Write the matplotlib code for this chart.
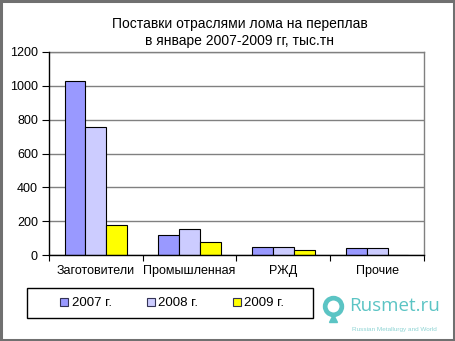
import numpy as np
import matplotlib
matplotlib.use('Agg')
from matplotlib import pyplot
from matplotlib.lines import Line2D
from matplotlib.patches import Rectangle

# Scrap deliveries by sector, January 2007-2009 (thousand tonnes)
categories = ['Заготовители', 'Промышленная', 'РЖД', 'Прочие']
years = ['2007 г.', '2008 г.', '2009 г.']
v2007 = [1030, 120, 45, 40]
v2008 = [755, 155, 50, 40]
v2009 = [175, 75, 28, 2]
yticks = [0, 200, 400, 600, 800, 1000, 1200]

colors = ['#9999FF', '#CCCCFF', '#FFFF00']

pyplot.rc('font', family=['Liberation Sans', 'DejaVu Sans'], size=9)
W, H = 456, 341
fig = pyplot.figure(figsize=(W / 100, H / 100), dpi=100)
ax = fig.add_axes([49 / W, 1 - 255 / H, (424 - 49) / W, (255 - 52) / H])

x = np.arange(len(categories))
width = 1 / 4.5
for i, (vals, c) in enumerate(zip([v2007, v2008, v2009], colors)):
    ax.bar(x + (i - 1) * width, vals, width, color=c, edgecolor='black',
           linewidth=0.8, zorder=3, label=years[i])

ax.set_xlim(-0.5, len(categories) - 0.5)
ax.set_ylim(0, 1200)
ax.set_yticks(yticks)
ax.set_xticks(x)
ax.set_xticklabels(categories)
ax.set_xticks(np.arange(len(categories) + 1) - 0.5, minor=True)
ax.tick_params(axis='x', which='major', length=0, pad=7)
ax.tick_params(axis='x', which='minor', length=4, width=0.8)
ax.tick_params(axis='y', length=5, width=0.8, pad=3)
ax.grid(axis='y', color='#808080', linewidth=1.0, zorder=0)
for side in ['left', 'bottom']:
    ax.spines[side].set_color('black')
    ax.spines[side].set_linewidth(1.0)
    ax.spines[side].set_zorder(4)
for side in ['top', 'right']:
    ax.spines[side].set_color('#808080')
    ax.spines[side].set_linewidth(1.0)

fig.text(240 / W, 1 - 24 / H, 'Поставки отраслями лома на переплав',
         ha='center', va='center', fontsize=10)
fig.text(240 / W, 1 - 41 / H, 'в январе 2007-2009 гг, тыс.тн',
         ha='center', va='center', fontsize=10)

# Legend box
fig.add_artist(Rectangle((27 / W, 1 - 318 / H), (313 - 27) / W, 30 / H,
                         transform=fig.transFigure, fill=False,
                         edgecolor='black', linewidth=1.0))
handles = [Line2D([], [], linestyle='none', marker='s', markersize=6,
                  markerfacecolor=c, markeredgecolor='#333355',
                  markeredgewidth=0.8) for c in colors]
fig.legend(handles, years, loc='center', ncol=3, frameon=False,
           bbox_to_anchor=(172 / W, 1 - 303 / H), handlelength=0.7,
           handletextpad=0.2, columnspacing=2.6, fontsize=9.5)

# Rusmet.ru logo
teal = '#5BC4C4'
fig.add_artist(Line2D([333 / W], [1 - 306 / H], marker='o', markersize=12,
                      markerfacecolor='white', markeredgecolor=teal,
                      markeredgewidth=3.4, transform=fig.transFigure))
fig.add_artist(Line2D([333 / W], [1 - 318 / H], marker='^', markersize=6,
                      markerfacecolor=teal, markeredgecolor=teal,
                      transform=fig.transFigure))
fig.text(349 / W, 1 - 306 / H, 'Rusmet.ru', ha='left', va='center',
         fontsize=13.5, color=teal, family='Open Sans')
fig.text(352 / W, 1 - 329 / H, 'Russian Metallurgy and World', ha='left',
         va='center', fontsize=4.6, color='#8FD4D4')

# Outer frame
fig.add_artist(Rectangle((1 / W, 1 - 340 / H), 453 / W, 339 / H,
                         transform=fig.transFigure, fill=False,
                         edgecolor='#707070', linewidth=2.2))

fig.savefig('out.png', dpi=100)
